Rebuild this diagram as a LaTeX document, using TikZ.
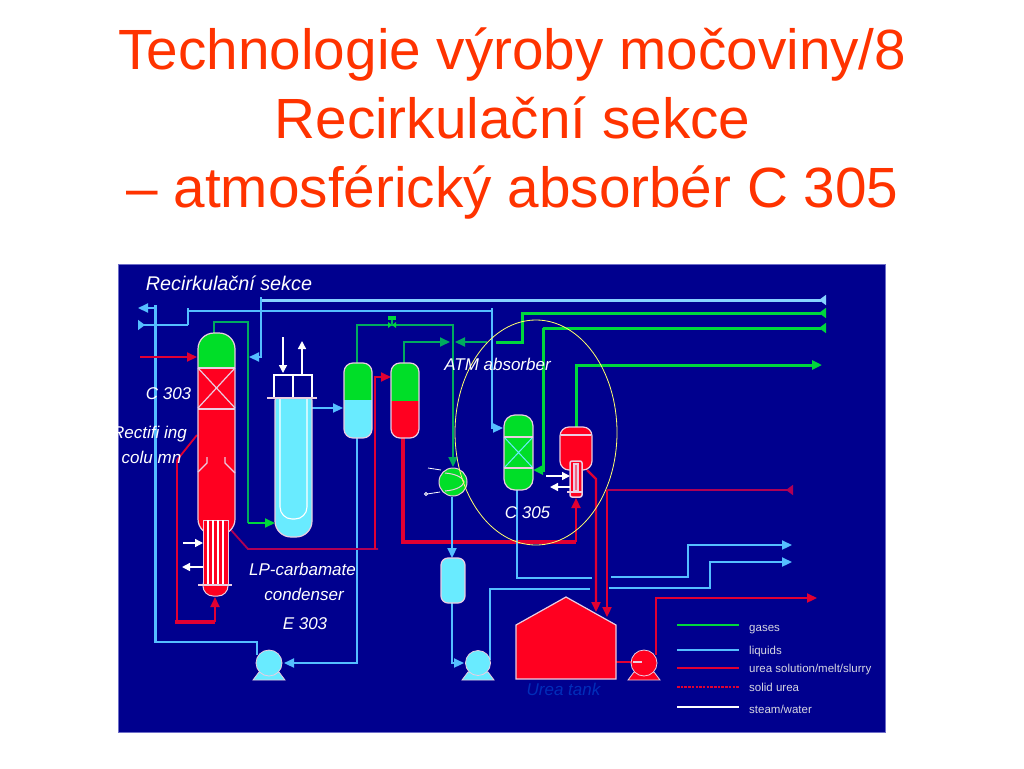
\documentclass[tikz,border=0pt]{standalone}
\usepackage{fontspec}
\setmainfont{Liberation Sans}
\usetikzlibrary{arrows.meta}
\definecolor{panelblue}{RGB}{0,0,142}
\definecolor{paneledge}{RGB}{110,110,200}
\definecolor{titlered}{RGB}{255,51,0}
\definecolor{liq}{RGB}{85,190,255}
\definecolor{liqlight}{RGB}{135,210,255}
\definecolor{liqfill}{RGB}{105,235,255}
\definecolor{gas}{RGB}{0,215,60}
\definecolor{gasdark}{RGB}{0,170,95}
\definecolor{vgreen}{RGB}{0,222,40}
\definecolor{vred}{RGB}{255,0,32}
\definecolor{ured}{RGB}{225,0,50}
\definecolor{urdark}{RGB}{175,0,85}
\definecolor{rim}{RGB}{235,205,225}
\definecolor{legendtext}{RGB}{215,215,225}
\definecolor{tankblue}{RGB}{0,45,185}
\definecolor{ringyellow}{RGB}{255,255,110}
\tikzset{
  titletext/.style={text=titlered,font=\fontsize{56.7}{58}\selectfont,inner sep=0pt,anchor=base},
  lab/.style={text=white,font=\fontsize{17}{18}\selectfont\itshape,inner sep=0pt,anchor=base},
  legtext/.style={text=legendtext,font=\fontsize{11.5}{12}\selectfont,inner sep=0pt,anchor=base west},
  liqline/.style={draw=liq,line width=2.2pt},
  liqthick/.style={draw=liqlight,line width=3pt},
  gasline/.style={draw=gas,line width=3pt},
  gasthin/.style={draw=gasdark,line width=1.8pt},
  redline/.style={draw=ured,line width=2.2pt},
  redthick/.style={draw=ured,line width=3.2pt},
  redthin/.style={draw=urdark,line width=1.8pt},
  whitearrow/.style={draw=white,line width=1.4pt,-{Triangle[length=8pt,width=8pt]}},
  tipf/.style={-{Triangle[length=10pt,width=9pt]}},
  tipr/.style={-{Triangle[reversed,length=7pt,width=10pt]}},
  rimline/.style={draw=rim,line width=1.2pt},
  whiteline/.style={draw=white,line width=1.1pt}
}
% vessel: x1 y1 x2 y2 ysplit radius topcolour bottomcolour
\newcommand{\vesselshape}[8]{%
  \begin{scope}
    \clip[rounded corners=#6] (#1,#2) rectangle (#3,#4);
    \fill[#7] (#1,#2) rectangle (#3,#5);
    \fill[#8] (#1,#5) rectangle (#3,#4);
  \end{scope}
  \draw[rimline,rounded corners=#6] (#1,#2) rectangle (#3,#4);
}
% pump: cx cy radius colour base half-width
\newcommand{\pumpshape}[5]{%
  \fill[#4,draw=rim,line width=.8pt] (#1-#5,680) -- (#1-#5+6,672) -- (#1+#5-6,672) -- (#1+#5,680) -- cycle;
  \fill[#4,draw=rim,line width=.8pt] (#1,#2) circle (#3);
}
\begin{document}
\begin{tikzpicture}[x=1pt,y=-1pt]
\useasboundingbox (0,0) rectangle (1024,768);
\fill[white] (0,0) rectangle (1024,768);
\node[titletext] (t1) at (512.5,70) {Technologie výroby močoviny/8};
\node[titletext] (t2) at (512.5,138) {Recirkulační sekce};
\node[titletext] (t3) at (512.5,207.5) {– atmosférický absorbér C 305};
\draw[fill=panelblue,draw=paneledge,line width=1.5pt] (118.5,264.5) rectangle (885.5,732.5);

% liquid lines, top
\draw[liqthick,tipr] (261,300) -- (826,300);
\draw[liqline,tipf] (261,297) -- (261,357) -- (249,357);
\draw[liqline] (188,311) -- (492,311);
\draw[liqline] (188,308) -- (188,325);
\draw[liqline,tipr] (188,325) -- (138,325);
\draw[liqline,tipf] (492,308) -- (492,428) -- (503,428);
\draw[liqline,tipf] (155.5,308) -- (138,308);
\draw[liqline] (155.5,305) -- (155.5,642) -- (257,642) -- (257,655);
\draw[liqline,tipf] (357,438) -- (357,663) -- (284,663);
\draw[liqline,tipf] (312,408) -- (343,408);

% green lines
\draw[gasthin] (214,333) -- (214,322) -- (248,322) -- (248,523);
\draw[gasthin,tipf,draw=gas] (248,523) -- (275,523);
\draw[gasthin,tipf] (357,363) -- (357,325) -- (453,325) -- (453,467);
\draw[gasthin] (404,363) -- (404,342) -- (430,342);
\draw[gasthin,tipf] (430,342) -- (450,342);
\draw[gasthin,tipf] (487,342) -- (455,342);
\draw[gasline,tipr] (496,342) -- (522,342) -- (522,313) -- (826,313);
\draw[gasline,tipr] (543,328) -- (826,328);
\draw[gasline,tipf] (543,328) -- (543,470) -- (533,470);
\draw[gasline,tipf] (576,427) -- (576,365) -- (822,365);
% valve
\fill[gas] (388,322) -- (396,328) -- (396,322) -- (388,328) -- cycle;
\draw[gasthin] (392,325) -- (392,320);
\fill[gas] (388,316) rectangle (396,320);

% red lines
\draw[redline,tipf] (140,357) -- (197,357);
\draw[redline] (215,606) -- (215,622);
\draw[redthick] (215,622) -- (175,622);
\draw[redline] (177,622) -- (177,460);
\draw[redthin,draw=ured] (177,460) -- (197,435);
\draw[redline,tipf] (215,622) -- (215,597);
\draw[redthin] (231,530) -- (248,549) -- (378,549);
\draw[redthin,tipf,draw=ured] (375,549) -- (375,377) -- (391,377);
\draw[redthick] (403,438) -- (403,542) -- (576,542);
\draw[redline,tipf] (576,542) -- (576,498);
\draw[redline,tipf] (587,470) -- (596,479) -- (596,612);
\draw[redline,tipf] (607,490) -- (607,617);
\draw[redthin,tipr] (607,490) -- (793,490);
\draw[redline] (616,662) -- (633,662);
\draw[redline] (656,655) -- (656,598);
\draw[redline,tipf] (655,598) -- (817,598);

% bottom liquid lines
\draw[liqline] (452,497) -- (452,545);
\draw[liqline,tipf] (452,540) -- (452,558);
\draw[liqline,tipf] (452,603) -- (452,663) -- (464,663);
\draw[liqline] (517,490) -- (517,578) -- (592,578);
\draw[liqline,tipf] (611,577) -- (688,577) -- (688,545) -- (792,545);
\draw[liqline] (490,660) -- (490,589) -- (590,589);
\draw[liqline,tipf] (609,588) -- (710,588) -- (710,562) -- (792,562);

% column C 303
\vesselshape{198}{333}{235}{535}{368}{16}{vgreen}{vred}
\fill[vred] (203,520) rectangle (228,585);
\draw[rimline] (198,368) -- (235,368);
\draw[rimline] (198,368) -- (235,408) (235,368) -- (198,408);
\draw[draw=rim,line width=2.2pt] (198,409) -- (235,409);
\draw[rimline] (207,457) -- (207,463) -- (198,472);
\draw[rimline] (225,457) -- (225,463) -- (235,473);
% E 303 lower exchanger
\fill[vred,draw=rim,line width=1pt,rounded corners=10] (203,575) -- (203,596) -- (228,596) -- (228,575) -- cycle;
\fill[vred,draw=rim,line width=1pt] (203,520) rectangle (228,585);
\draw[whiteline] (208,520) -- (208,585) (213,520) -- (213,585) (218,520) -- (218,585) (223,520) -- (223,585);
\draw[draw=rim,line width=2pt] (198,585) -- (232,585);
\draw[whitearrow] (183,543) -- (203,543);
\draw[whitearrow] (203,567) -- (182,567);

% second vessel E
\fill[liqfill,draw=rim,line width=1.2pt,rounded corners=16] (275,385) -- (275,537) -- (312,537) -- (312,385) -- cycle;
\fill[panelblue] (270,370) rectangle (318,398);
\draw[whiteline,rounded corners=12] (280,398) -- (280,519) -- (307,519) -- (307,398);
\draw[whiteline] (274,375) rectangle (312,398);
\draw[whiteline] (293,375) -- (293,398);
\draw[draw=rim,line width=2pt] (267,398) -- (317,398);
\draw[whitearrow] (283,337) -- (283,373);
\draw[whitearrow] (302,375) -- (302,341);

% vessels
\vesselshape{344}{363}{372}{438}{400}{9}{vgreen}{liqfill}
\vesselshape{391}{363}{419}{438}{401}{9}{vgreen}{vred}
\vesselshape{504}{415}{533}{490}{452}{11}{vgreen}{vgreen}
\draw[draw=liqfill,line width=1pt] (504,437) -- (533,468) (533,437) -- (504,468);
\draw[rimline] (504,437) -- (533,437) (504,468) -- (533,468);
\vesselshape{441}{558}{465}{603}{603}{7}{liqfill}{liqfill}

% separator + small exchanger
\vesselshape{560}{427}{592}{470}{470}{9}{vred}{vred}
\draw[rimline] (561,435) -- (591,435);
\fill[vred,draw=rim,line width=1.5pt,rounded corners=2] (570,461) rectangle (582,497);
\draw[draw=rim,line width=1.5pt,fill=ured!60!white] (574,464) rectangle (578,491);
\draw[draw=rim,line width=2pt] (567,492) -- (583,492);
\draw[whitearrow] (546,476) -- (570,476);
\draw[whitearrow] (570,487) -- (550,487);

% green exchanger
\fill[vgreen,draw=rim,line width=1pt] (453,482) circle (14);
\draw[draw=rim,line width=1pt] (445,473) .. controls (457,474) and (463,478) .. (464,482) .. controls (463,486) and (457,490) .. (445,491);
\draw[whiteline,line width=.8pt] (428,468) -- (441,470);
\draw[whiteline,line width=.8pt] (427,494) -- (440,492);
\draw[whiteline,line width=.8pt] (426,494) circle (1.5);

% pumps
\pumpshape{269}{663}{13}{liqfill}{16}
\pumpshape{478}{663}{12.5}{liqfill}{16}
\pumpshape{644}{663}{13}{vred}{16}
\draw[draw=rim,line width=2pt] (633,662) -- (642,662);

% tank
\fill[vred,draw=rim,line width=1.2pt] (516,679) -- (516,625) -- (566,597) -- (616,625) -- (616,679) -- cycle;

% ellipse
\draw[draw=ringyellow,line width=.8pt] (536,432.5) ellipse (81 and 112.5);

% legend
\draw[draw=gas,line width=1.2pt] (677,625) -- (739,625);
\draw[draw=liq,line width=1.6pt] (677,650) -- (739,650);
\draw[draw=ured,line width=1.2pt] (677,668) -- (739,668);
\draw[draw=ured,line width=1.1pt,dash pattern=on 2.5pt off 1.2pt] (677,687) -- (739,687);
\draw[draw=white,line width=1.1pt] (677,707) -- (739,707);
\node[legtext] (l1) at (749,631) {gases};
\node[legtext] (l2) at (749,654) {liquids};
\node[legtext] (l3) at (749,672) {urea solution/melt/slurry};
\node[legtext] (l4) at (749,691) {solid urea};
\node[legtext] (l5) at (749,713) {steam/water};

% labels
\node[lab,font=\fontsize{19.8}{20}\selectfont\itshape] (a1) at (229,290) {Recirkulační sekce};
\node[lab] (a2) at (168.5,399) {C 303};
\node[lab] (a3) at (149.5,438) {Rectifi ing};
\node[lab] (a4) at (151.5,463) {colu mn};
\node[lab] (a5) at (497.5,370) {ATM absorber};
\node[lab] (a6) at (527.5,518) {C 305};
\node[lab] (a7) at (302.5,575) {LP-carbamate};
\node[lab] (a8) at (304,600) {condenser};
\node[lab] (a9) at (305,629) {E 303};
\node[lab,text=tankblue] (a10) at (563.5,695) {Urea tank};
\end{tikzpicture}
\end{document}
